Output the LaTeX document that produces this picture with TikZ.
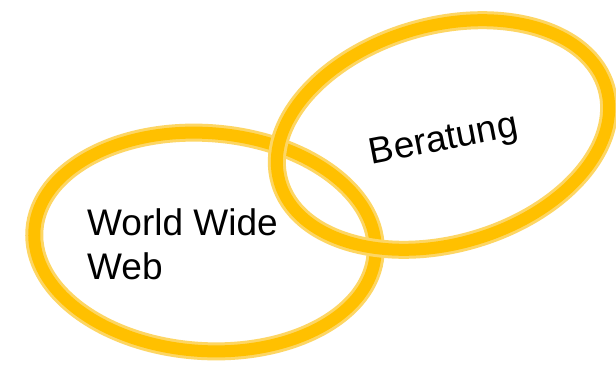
\documentclass[tikz,border=0pt]{standalone}
\usepackage{fontspec}
\setmainfont{Liberation Sans}
\definecolor{ringgold}{RGB}{255,192,0}
\definecolor{ringlight}{RGB}{253,214,100}
\begin{document}
\begin{tikzpicture}[x=1pt,y=1pt,
  ringouter/.style={draw=ringlight,line width=18pt},
  ringinner/.style={draw=ringgold,line width=12pt},
  lbl/.style={inner sep=0pt,font=\fontsize{37}{44}\selectfont,text=black}]
\useasboundingbox[fill=white] (0,0) rectangle (616,-365);
% left ring
\coordinate (lc) at (205,-242);
\draw[ringouter,rotate around={-4:(lc)}] (lc) ellipse [x radius=171,y radius=109];
\draw[ringinner,rotate around={-4:(lc)}] (lc) ellipse [x radius=171,y radius=109];
% right ring
\coordinate (rc) at (443,-135);
\draw[ringouter,rotate around={16:(rc)}] (rc) ellipse [x radius=170,y radius=109];
\draw[ringinner,rotate around={16:(rc)}] (rc) ellipse [x radius=170,y radius=109];
% labels
\node[lbl,align=left,anchor=north west] (www) at (87,-208) {World Wide\\Web};
\node[lbl,rotate=11] (ber) at (444,-141) {Beratung};
\end{tikzpicture}
\end{document}
